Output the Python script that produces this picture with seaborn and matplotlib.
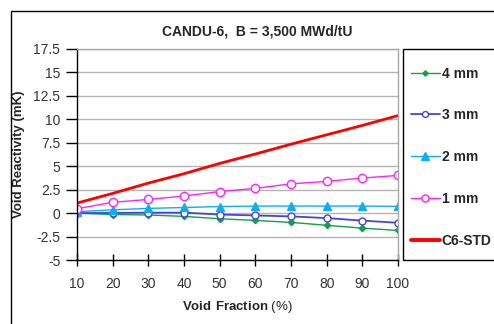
import matplotlib
matplotlib.use("Agg")
import matplotlib.pyplot as plt
import seaborn as sns
import pandas as pd
from matplotlib.patches import Rectangle
from matplotlib.lines import Line2D

void_fraction = [10, 20, 30, 40, 50, 60, 70, 80, 90, 100]
mm4 = [0.0, -0.15, -0.2, -0.35, -0.6, -0.78, -0.99, -1.3, -1.6, -1.85]
mm3 = [0.0, 0.02, 0.05, 0.05, -0.15, -0.25, -0.35, -0.53, -0.8, -1.03]
mm2 = [0.15, 0.35, 0.5, 0.6, 0.7, 0.75, 0.75, 0.75, 0.75, 0.72]
mm1 = [0.47, 1.15, 1.46, 1.82, 2.3, 2.64, 3.12, 3.38, 3.74, 4.02]
c6std = [1.07, 2.1, 3.2, 4.2, 5.3, 6.3, 7.35, 8.35, 9.35, 10.4]
series_names = ["4 mm", "3 mm", "2 mm", "1 mm", "C6-STD"]
x_ticks = [10, 20, 30, 40, 50, 60, 70, 80, 90, 100]
y_ticks = [-5, -2.5, 0, 2.5, 5, 7.5, 10, 12.5, 15, 17.5]
y_tick_labels = ["-5", "-2.5", "0", "2.5", "5", "7.5", "10", "12.5", "15", "17.5"]

sns.set_style("white")
plt.rcParams['font.family'] = ['Liberation Sans', 'DejaVu Sans']
plt.rcParams['mathtext.fontset'] = 'custom'
plt.rcParams['mathtext.bf'] = 'Liberation Sans:bold'
plt.rcParams['mathtext.rm'] = 'Liberation Sans'

W, H = 494, 324
fig = plt.figure(figsize=(W / 100, H / 100), dpi=100)
ax = fig.add_axes([77 / W, 1 - 260 / H, (398 - 77) / W, (260 - 49) / H])

styles = {
    "4 mm": dict(color="#12A04A", marker="D", ms=3.2, mfc="#12A04A", mec="#12A04A", lw=1.0),
    "3 mm": dict(color="#4444DD", marker="o", ms=5, mfc="white", mec="#4444DD", lw=1.3),
    "2 mm": dict(color="#11AEEA", marker="^", ms=6, mfc="#11AEEA", mec="#11AEEA", lw=1.0),
    "1 mm": dict(color="#FF22FF", marker="o", ms=6, mfc="white", mec="#FF22FF", lw=1.0),
    "C6-STD": dict(color="#FF0000", marker=None, ms=0, mfc="none", mec="none", lw=2.0),
}

values = [mm4, mm3, mm2, mm1, c6std]
frames = []
for name, vals in zip(series_names, values):
    frames.append(pd.DataFrame({"vf": void_fraction, "r": vals, "s": name}))
df = pd.concat(frames, ignore_index=True)

for name in ["4 mm", "3 mm", "2 mm", "1 mm", "C6-STD"]:
    st = styles[name]
    sub = df[df["s"] == name]
    kw = dict(color=st["color"], linewidth=st["lw"], ax=ax, legend=False)
    if st["marker"]:
        kw.update(marker=st["marker"], markersize=st["ms"],
                  markerfacecolor=st["mfc"], markeredgecolor=st["mec"],
                  markeredgewidth=1.0)
    sns.lineplot(data=sub, x="vf", y="r", **kw)

ax.set_xlim(10, 100)
ax.set_ylim(-5, 17.5)
ax.set_xticks(x_ticks)
ax.set_yticks(y_ticks)
ax.set_yticklabels(y_tick_labels)
ax.yaxis.grid(True, color="#B4B4B4", linewidth=1.0)
ax.xaxis.grid(False)
ax.set_axisbelow(True)
for s in ["top", "right"]:
    ax.spines[s].set_color("#A8A8A8")
    ax.spines[s].set_linewidth(1.0)
for s in ["left", "bottom"]:
    ax.spines[s].set_color("black")
    ax.spines[s].set_linewidth(1.0)
ax.tick_params(axis="y", direction="out", length=8, width=1, pad=4, labelsize=10,
               left=True, colors="black")
ax.tick_params(axis="x", direction="inout", length=8, width=1, pad=8, labelsize=10,
               bottom=True, colors="black")
for lab in ax.get_xticklabels() + ax.get_yticklabels():
    lab.set_color("#333333")

ax.set_xlabel(r"$\bf{Void\ Fraction}$ (%)", fontsize=9.5, labelpad=6)
ax.set_ylabel("Void Reactivity (mK)", fontsize=9.5, fontweight="bold", labelpad=6)
fig.text(257 / W, 1 - 32 / H, "CANDU-6,  B = 3,500 MWd/tU", ha="center", va="center",
         fontsize=10, fontweight="bold")

# outer chart border (cut off at right/bottom like the reference)
fig.patches.append(Rectangle((11 / W, -0.1), 1.2, 1 - 11 / H + 0.1,
                             transform=fig.transFigure, fill=False,
                             edgecolor="black", linewidth=1.0))
# legend box
fig.patches.append(Rectangle((403 / W, 1 - 260 / H), 1.0, (260 - 49) / H,
                             transform=fig.transFigure, fill=False,
                             edgecolor="black", linewidth=1.0))

handles = []
for name in series_names:
    st = styles[name]
    handles.append(Line2D([], [], color=st["color"], lw=st["lw"] + (0.8 if name == "C6-STD" else 0),
                          marker=st["marker"], ms=st["ms"] * 0.85 if st["marker"] else 0,
                          mfc=st["mfc"], mec=st["mec"]))
leg = fig.legend(handles, series_names, loc="upper left",
                 bbox_to_anchor=(405 / W, 1 - 61 / H), frameon=False,
                 handlelength=2.1, handletextpad=0.15, labelspacing=2.0,
                 prop=dict(weight="bold", size=10), borderaxespad=0)

fig.savefig("out.png", dpi=100)
